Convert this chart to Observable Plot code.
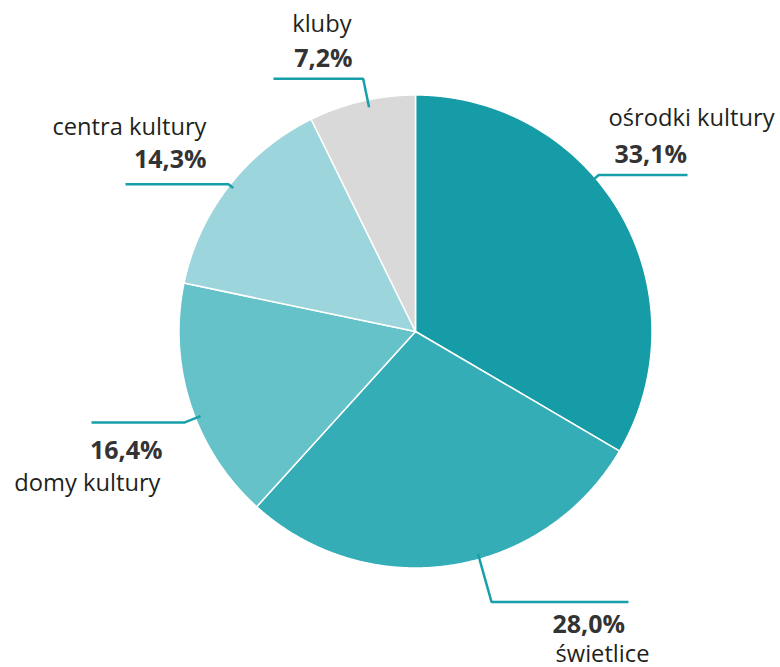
<!DOCTYPE html>
<html>
<head>
<meta charset="utf-8">
<script src="https://cdn.jsdelivr.net/npm/d3@7"></script>
<script src="https://cdn.jsdelivr.net/npm/@observablehq/plot@0.6"></script>
<style>
  html, body { margin: 0; padding: 0; background: #fff; }
  #chart svg { display: block; }
</style>
</head>
<body>
<div id="chart"></div>
<script>
// ---- data ----
const categories = ["ośrodki kultury", "świetlice", "domy kultury", "centra kultury", "kluby"];
const shares = [33.1, 28.0, 16.4, 14.3, 7.2];
const colors = ["#159ca6", "#34adb7", "#66c2c9", "#9cd6dc", "#d9d9d9"];

// ---- layout (chart units: 1 unit = 1 px, pie centre at 0,0, y up) ----
const radius = 236.5;
const leaderAngle = [49.5, 164.3, 248.5, 308.2, 348.3];   // degrees clockwise from top
const leaderInner = [232, 231, 231, 232, 229];
const leaderBend  = [241, 281, 248, 238, 258];
const leaderEndX  = [272, 213, -324, -290, -142];
const nameX   = [193, 140, -255, -209, -64];
const pctX    = [199, 137, -253, -209, -63];
const nameY   = [206, -330, -159, 197, 300];
const pctY    = [169, -301, -127, 164, 265];
const anchors = ["start", "start", "end", "end", "end"];

const fmt = v => d3.format(".1f")(v).replace(".", ",") + "%";

// wedge outlines built from the pie layout
const arcs = d3.pie().sort(null).value(d => d)(shares);
const wedgePts = [];
arcs.forEach((a, i) => {
  const cat = categories[i];
  const n = Math.max(2, Math.ceil((a.endAngle - a.startAngle) / 0.004));
  wedgePts.push({cat, x: 0, y: 0});
  for (let k = 0; k <= n; k++) {
    const t = a.startAngle + (a.endAngle - a.startAngle) * k / n;
    wedgePts.push({cat, x: radius * Math.sin(t), y: radius * Math.cos(t)});
  }
  wedgePts.push({cat, x: 0, y: 0});
});

// leader lines
const leaderPts = [];
categories.forEach((cat, i) => {
  const t = leaderAngle[i] * Math.PI / 180;
  const bx = leaderBend[i] * Math.sin(t), by = leaderBend[i] * Math.cos(t);
  leaderPts.push({cat, x: leaderInner[i] * Math.sin(t), y: leaderInner[i] * Math.cos(t)});
  leaderPts.push({cat, x: bx, y: by});
  leaderPts.push({cat, x: leaderEndX[i], y: by});
});

const labels = categories.map((cat, i) => ({
  cat, pct: fmt(shares[i]), nx: nameX[i], px: pctX[i], ny: nameY[i], py: pctY[i], anchor: anchors[i]
}));

const textMarks = [];
for (const anchor of ["start", "end"]) {
  textMarks.push(Plot.text(labels, {
    filter: d => d.anchor === anchor, x: "nx", y: "ny", text: "cat",
    textAnchor: anchor, lineAnchor: "bottom", fontSize: 23.7, fill: "#231f20",
    fontFamily: "Open Sans"
  }));
  textMarks.push(Plot.text(labels, {
    filter: d => d.anchor === anchor, x: "px", y: "py", text: "pct",
    textAnchor: anchor, lineAnchor: "bottom", fontSize: 25, fontWeight: 700, fill: "#333333",
    fontFamily: "Open Sans"
  }));
}

const chart = Plot.plot({
  width: 780,
  height: 667,
  margin: 0,
  x: {domain: [-415, 365], axis: null},
  y: {domain: [-336, 331], axis: null},
  color: {domain: categories, range: colors},
  style: {background: "#fff", fontFamily: "Open Sans"},
  marks: [
    Plot.line(wedgePts, {x: "x", y: "y", z: "cat", fill: "cat", stroke: "#fff", strokeWidth: 1.5, curve: "linear"}),
    Plot.line(leaderPts, {x: "x", y: "y", z: "cat", stroke: "#17a0aa", strokeWidth: 2.5,
      strokeLinejoin: "miter", strokeLinecap: "butt", curve: "linear"}),
    ...textMarks
  ]
});
document.getElementById("chart").appendChild(chart);
</script>
</body>
</html>
